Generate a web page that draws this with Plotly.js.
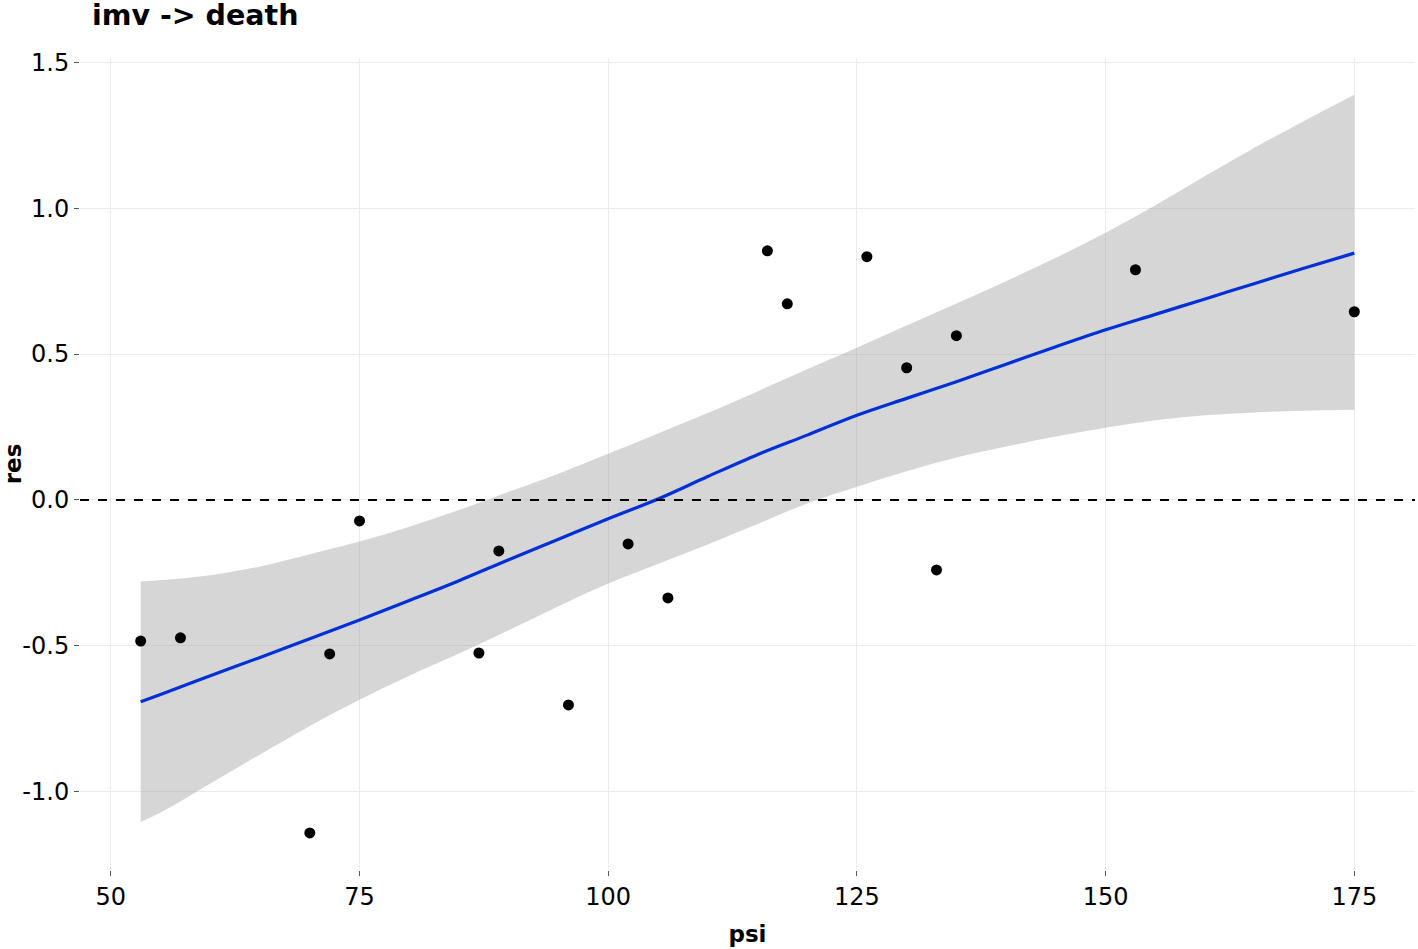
<!DOCTYPE html>
<html>
<head>
<meta charset="utf-8">
<script src="https://cdn.plot.ly/plotly-3.0.1.min.js"></script>
<style>html,body{margin:0;padding:0;background:#fff;}#chart{width:1418px;height:949px;}</style>
</head>
<body>
<div id="chart"></div>
<script>
// Observed points
const psi = [53, 57, 70, 72, 75, 87, 89, 96, 102, 106, 116, 118, 126, 130, 133, 135, 153, 175];
const res = [-0.484, -0.473, -1.142, -0.528, -0.072, -0.525, -0.175, -0.703, -0.151, -0.336, 0.854, 0.672, 0.834, 0.453, -0.240, 0.563, 0.789, 0.645];

// Smoothed fit and confidence band
const fitX = [53, 55, 60, 65, 70, 75, 80, 85, 90, 95, 100, 105, 110, 115, 120, 125, 130, 135, 140, 145, 150, 155, 160, 165, 170, 175];
const fitY = [-0.692, -0.667, -0.603, -0.540, -0.476, -0.412, -0.345, -0.277, -0.205, -0.135, -0.065, 0.003, 0.080, 0.155, 0.222, 0.290, 0.348, 0.405, 0.465, 0.525, 0.583, 0.636, 0.689, 0.742, 0.795, 0.846];
const upperY = [-0.280, -0.275, -0.258, -0.228, -0.186, -0.143, -0.092, -0.035, 0.028, 0.090, 0.158, 0.228, 0.298, 0.372, 0.448, 0.522, 0.598, 0.673, 0.750, 0.830, 0.916, 1.010, 1.110, 1.208, 1.300, 1.389];
const lowerY = [-1.104, -1.072, -0.972, -0.873, -0.775, -0.685, -0.603, -0.527, -0.447, -0.365, -0.287, -0.220, -0.153, -0.083, -0.012, 0.045, 0.098, 0.145, 0.183, 0.217, 0.247, 0.273, 0.290, 0.300, 0.306, 0.309];

// Axis ticks
const xTicks = [50, 75, 100, 125, 150, 175];
const xTickText = ["50", "75", "100", "125", "150", "175"];
const yTicks = [-1.0, -0.5, 0.0, 0.5, 1.0, 1.5];
const yTickText = ["-1.0", "-0.5", "0.0", "0.5", "1.0", "1.5"];

const FONT = "DejaVu Sans, Verdana, sans-serif";

const traces = [
  {x: fitX, y: lowerY, type: "scatter", mode: "lines", line: {width: 0, color: "rgba(0,0,0,0)", shape: "spline", smoothing: 1}, hoverinfo: "skip", showlegend: false},
  {x: fitX, y: upperY, type: "scatter", mode: "lines", fill: "tonexty", fillcolor: "rgba(153,153,153,0.4)", line: {width: 0, color: "rgba(0,0,0,0)", shape: "spline", smoothing: 1}, hoverinfo: "skip", showlegend: false},
  {x: fitX, y: fitY, type: "scatter", mode: "lines", line: {color: "#0030d6", width: 3.2, shape: "spline", smoothing: 1}, showlegend: false},
  {x: psi, y: res, type: "scatter", mode: "markers", marker: {color: "#000", size: 11}, showlegend: false}
];

const layout = {
  width: 1418, height: 949,
  margin: {l: 80, r: 3, t: 58, b: 79},
  paper_bgcolor: "#fff", plot_bgcolor: "#fff",
  font: {family: FONT, color: "#000", size: 24},
  title: {text: "<b>imv -> death</b>", font: {family: FONT, size: 28.5, color: "#000"},
          x: 92/1418, xanchor: "left", xref: "container", y: 1 - 15/949, yanchor: "middle", yref: "container"},
  xaxis: {range: [46.9, 181.1], tickvals: xTicks, ticktext: xTickText, showgrid: true, gridcolor: "#ebebeb", gridwidth: 1,
          zeroline: false, showline: false, ticks: "outside", ticklen: 5, tickcolor: "#555", tickwidth: 1,
          tickfont: {family: FONT, size: 24, color: "#000"},
          title: {text: "<b>psi</b>", font: {family: FONT, size: 23, color: "#000"}, standoff: 16}},
  yaxis: {range: [-1.269, 1.515], tickvals: yTicks, ticktext: yTickText, showgrid: true, gridcolor: "#ebebeb", gridwidth: 1,
          zeroline: false, showline: false, ticks: "outside", ticklen: 5, tickcolor: "#555", tickwidth: 1,
          tickfont: {family: FONT, size: 24, color: "#000"},
          title: {text: "<b>res</b>", font: {family: FONT, size: 23, color: "#000"}, standoff: 12}},
  shapes: [{type: "line", xref: "paper", x0: 0, x1: 1, yref: "y", y0: 0, y1: 0, line: {color: "#000", width: 2, dash: "dash"}}],
  showlegend: false
};

Plotly.newPlot("chart", traces, layout, {displayModeBar: false, staticPlot: true});
</script>
</body>
</html>
